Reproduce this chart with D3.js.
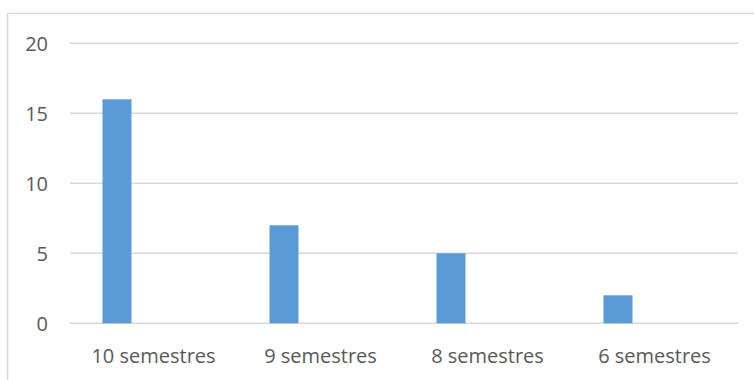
<!DOCTYPE html>
<html>
<head>
<meta charset="utf-8">
<script src="https://cdn.jsdelivr.net/npm/d3@7"></script>
<style>
  html, body { margin: 0; padding: 0; background: #fff; }
  svg { display: block; }
  text { font-family: "Open Sans", "Noto Sans", sans-serif; fill: #595959; }
</style>
</head>
<body>
<div id="chart"></div>
<script>
// Students by number of semesters
const categories = ["10 semestres", "9 semestres", "8 semestres", "6 semestres"];
const values = [16, 7, 5, 2];
const yTicks = [0, 5, 10, 15, 20];
// clustered layout: the bar occupies the first of two slots in each category
const slots = ["serie1", "serie2"];

const width = 754, height = 380;
const plot = { left: 70, right: 738, top: 43.3, bottom: 323.3 };

const svg = d3.select("#chart").append("svg")
  .attr("width", width).attr("height", height);

// chart area frame
svg.append("rect")
  .attr("x", 7.5).attr("y", 13.5)
  .attr("width", 800).attr("height", 420)
  .attr("fill", "none")
  .attr("stroke", "#d9d9d9")
  .attr("stroke-width", 1.5);

const x = d3.scaleBand().domain(categories).range([plot.left, plot.right]).padding(0);
const xInner = d3.scaleBand().domain(slots).range([0, x.bandwidth()])
  .paddingInner(0.603).paddingOuter(0.445);
const y = d3.scaleLinear().domain([0, 20]).range([plot.bottom, plot.top]);

// horizontal gridlines
svg.append("g")
  .selectAll("line")
  .data(yTicks)
  .join("line")
  .attr("x1", plot.left).attr("x2", plot.right)
  .attr("y1", d => y(d)).attr("y2", d => y(d))
  .attr("stroke", "#d9d9d9")
  .attr("stroke-width", 1.5);

// value axis labels
const yAxis = d3.axisLeft(y).tickValues(yTicks).tickSize(0).tickPadding(0);
const gy = svg.append("g").attr("transform", "translate(48,0)").call(yAxis);
gy.select(".domain").remove();
gy.selectAll("text")
  .attr("font-size", "20px")
  .attr("font-family", "'Open Sans', sans-serif")
  .attr("fill", "#595959")
  .attr("dy", "0.36em");

// bars
svg.append("g")
  .selectAll("rect")
  .data(categories.map((c, i) => ({ c, v: values[i] })))
  .join("rect")
  .attr("x", d => x(d.c) + xInner("serie1"))
  .attr("width", xInner.bandwidth())
  .attr("y", d => y(d.v))
  .attr("height", d => y(0) - y(d.v))
  .attr("fill", "#5b9bd5");

// category axis labels
const xAxis = d3.axisBottom(x).tickSize(0).tickPadding(0);
const gx = svg.append("g").attr("transform", "translate(0,363)").call(xAxis);
gx.select(".domain").remove();
gx.selectAll("text")
  .attr("font-size", "20px")
  .attr("font-family", "'Open Sans', sans-serif")
  .attr("fill", "#595959")
  .attr("dy", "0");
</script>
</body>
</html>
